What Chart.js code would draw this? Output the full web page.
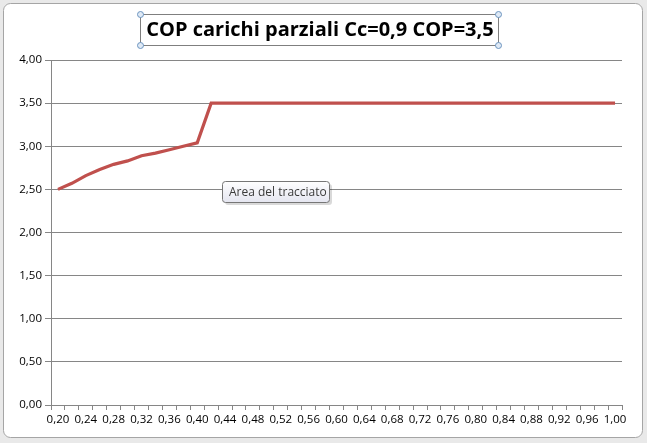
<!DOCTYPE html>
<html>
<head>
<meta charset="utf-8">
<script src="https://cdn.jsdelivr.net/npm/chart.js@4"></script>
<style>
  html, body { margin: 0; padding: 0; background: #e9e9e9; }
  #wrap { position: relative; width: 647px; height: 443px; }
</style>
</head>
<body>
<div id="wrap"><canvas id="copChart" width="647" height="443"></canvas></div>
<script>
// Dati
const carichi = ['0,20', '0,22', '0,24', '0,26', '0,28', '0,30', '0,32', '0,34', '0,36', '0,38',
  '0,40', '0,42', '0,44', '0,46', '0,48', '0,50', '0,52', '0,54', '0,56', '0,58',
  '0,60', '0,62', '0,64', '0,66', '0,68', '0,70', '0,72', '0,74', '0,76', '0,78',
  '0,80', '0,82', '0,84', '0,86', '0,88', '0,90', '0,92', '0,94', '0,96', '0,98', '1,00'];
const copValori = [2.50, 2.57, 2.66, 2.73, 2.79, 2.83, 2.89, 2.92, 2.96, 3.00,
  3.04, 3.50, 3.50, 3.50, 3.50, 3.50, 3.50, 3.50, 3.50, 3.50,
  3.50, 3.50, 3.50, 3.50, 3.50, 3.50, 3.50, 3.50, 3.50, 3.50,
  3.50, 3.50, 3.50, 3.50, 3.50, 3.50, 3.50, 3.50, 3.50, 3.50, 3.50];
const titolo = 'COP carichi parziali Cc=0,9 COP=3,5';
const etichettaArea = 'Area del tracciato';

const axisGrey = '#868686';
const fontTick = { family: 'Open Sans', size: 11.5 };

// Sfondo, cornice, titolo e finestrella "Area del tracciato"
const decorazioni = {
  id: 'decorazioni',
  beforeDraw(chart) {
    const ctx = chart.ctx;
    ctx.save();
    ctx.fillStyle = '#ffffff';
    ctx.strokeStyle = '#a5a5a5';
    ctx.lineWidth = 1;
    ctx.beginPath();
    ctx.roundRect(3.5, 3.5, 639, 434, 7);
    ctx.fill();
    ctx.stroke();
    ctx.restore();
  },
  afterDraw(chart) {
    const ctx = chart.ctx;
    ctx.save();
    // titolo
    ctx.font = 'bold 20px "Open Sans"';
    ctx.fillStyle = '#000000';
    ctx.textAlign = 'center';
    ctx.textBaseline = 'middle';
    ctx.fillText(titolo, 320, 30);
    // cornice di selezione
    ctx.strokeStyle = '#7f7f7f';
    ctx.lineWidth = 1;
    ctx.strokeRect(140.5, 14.5, 358, 31);
    [[140.5, 14.5], [498.5, 14.5], [140.5, 45.5], [498.5, 45.5]].forEach(function (p) {
      ctx.beginPath();
      ctx.arc(p[0], p[1], 3, 0, Math.PI * 2);
      ctx.fillStyle = '#dfe9f5';
      ctx.fill();
      ctx.strokeStyle = '#6c95c0';
      ctx.stroke();
    });
    // tooltip
    const g = ctx.createLinearGradient(0, 181, 0, 203);
    g.addColorStop(0, '#ffffff');
    g.addColorStop(1, '#e4e5f0');
    ctx.fillStyle = 'rgba(0,0,0,0.15)';
    ctx.beginPath();
    ctx.roundRect(225, 184, 107, 21, 3);
    ctx.fill();
    ctx.fillStyle = g;
    ctx.strokeStyle = '#767676';
    ctx.beginPath();
    ctx.roundRect(222.5, 181.5, 107, 21, 3);
    ctx.fill();
    ctx.stroke();
    ctx.font = '12px "Open Sans"';
    ctx.fillStyle = '#3a3a3a';
    ctx.textAlign = 'left';
    ctx.fillText(etichettaArea, 229, 192.5);
    ctx.restore();
  }
};

new Chart(document.getElementById('copChart').getContext('2d'), {
  type: 'line',
  data: {
    labels: carichi,
    datasets: [{
      label: 'COP',
      data: copValori,
      borderColor: '#c0504d',
      borderWidth: 3.2,
      pointRadius: 0,
      tension: 0,
      fill: false
    }]
  },
  options: {
    responsive: false,
    animation: false,
    layout: { padding: { left: 0, right: 25, top: 60, bottom: 6 } },
    plugins: {
      legend: { display: false },
      tooltip: { enabled: false },
      title: { display: false }
    },
    scales: {
      x: {
        offset: true,
        afterFit(scale) { scale.height = 32; },
        grid: { offset: true, drawOnChartArea: false, color: axisGrey, tickLength: 5 },
        border: { color: axisGrey },
        ticks: {
          autoSkip: false,
          maxRotation: 0,
          minRotation: 0,
          color: '#000000',
          font: fontTick,
          padding: 3,
          callback: function (val, i) { return i % 2 === 0 ? carichi[i] : ''; }
        }
      },
      y: {
        min: 0,
        max: 4,
        afterFit(scale) { scale.width = 51; },
        grid: { color: axisGrey, tickLength: 6 },
        border: { color: axisGrey },
        ticks: {
          stepSize: 0.5,
          color: '#000000',
          font: fontTick,
          padding: 3,
          callback: function (v) { return v.toFixed(2).replace('.', ','); }
        }
      }
    }
  },
  plugins: [decorazioni]
});
</script>
</body>
</html>
